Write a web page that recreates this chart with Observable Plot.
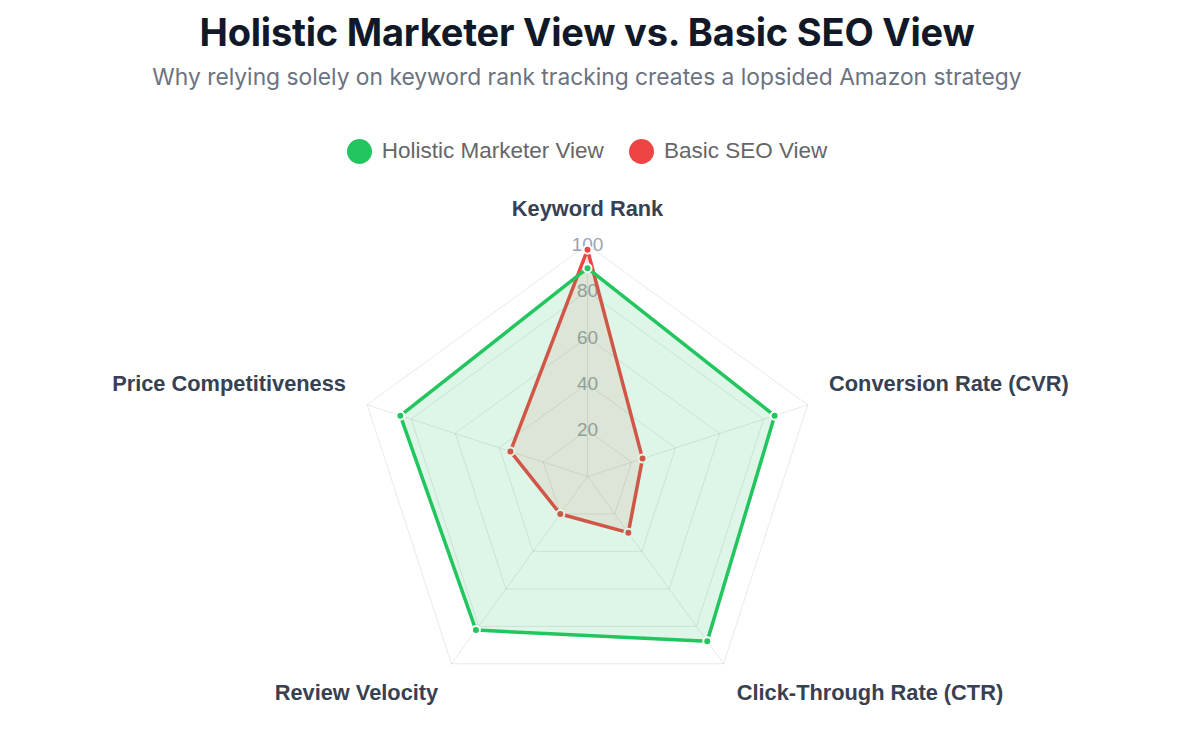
<!DOCTYPE html>
<html>
<head>
<meta charset="utf-8">
<script src="https://cdn.jsdelivr.net/npm/d3@7"></script>
<script src="https://cdn.jsdelivr.net/npm/@observablehq/plot@0.6"></script>
<style>
  html, body { margin: 0; padding: 0; background: #fff; }
  #wrap { width: 1174px; }
  .title { height: 64px; line-height: 64px; text-align: center; font-family: Inter, sans-serif; font-weight: 700; font-size: 38px; color: #111827; letter-spacing: -0.2px; }
  .subtitle { height: 26px; line-height: 26px; text-align: center; font-family: Inter, sans-serif; font-size: 22.8px; color: #6b7280; }
  .legend { margin-top: 46px; height: 30px; display: flex; justify-content: center; align-items: center; gap: 25px; font-family: "Liberation Sans", Arial, sans-serif; font-size: 22.5px; color: #666; }
  .legend span.item { display: flex; align-items: center; gap: 10px; }
  .legend span.sw { width: 25px; height: 25px; border-radius: 50%; display: inline-block; }
  #chart { margin-top: 14px; }
</style>
</head>
<body>
<div id="wrap">
  <div class="title">Holistic Marketer View vs. Basic SEO View</div>
  <div class="subtitle">Why relying solely on keyword rank tracking creates a lopsided Amazon strategy</div>
  <div class="legend" id="legend"></div>
  <div id="chart"></div>
</div>
<script>
const axesLabels = ["Keyword Rank", "Conversion Rate (CVR)", "Click-Through Rate (CTR)", "Review Velocity", "Price Competitiveness"];
const seriesNames = ["Holistic Marketer View", "Basic SEO View"];
const holisticValues = [90, 85, 88, 82, 85];
const basicSeoValues = [98, 25, 30, 20, 35];
const tickValues = [20, 40, 60, 80, 100];
const seriesColors = ["#22c55e", "#ef4444"];

const n = axesLabels.length;
const ang = i => (i * 2 * Math.PI) / n;
const px = (v, i) => v * Math.sin(ang(i));
const py = (v, i) => v * Math.cos(ang(i));
const maxV = 100;
const labelV = 109.7;

// legend
const leg = document.getElementById("legend");
seriesNames.forEach((s, k) => {
  const it = document.createElement("span");
  it.className = "item";
  it.innerHTML = `<span class="sw" style="background:${seriesColors[k]}"></span><span>${s}</span>`;
  leg.appendChild(it);
});

const grid = tickValues.flatMap(t => axesLabels.map((a, i) => ({t, i, x: px(t, i), y: py(t, i)})));
const spokes = axesLabels.map((a, i) => ({x: px(maxV, i), y: py(maxV, i)}));
const mk = (vals, name) => vals.map((v, i) => ({name, axis: axesLabels[i], v, x: px(v, i), y: py(v, i)}));
const holistic = mk(holisticValues, seriesNames[0]);
const basic = mk(basicSeoValues, seriesNames[1]);
const labels = axesLabels.map((a, i) => {
  const deg = (ang(i) * 180) / Math.PI;
  const anchor = Math.abs(deg) < 1 || Math.abs(deg - 180) < 1 ? "middle" : deg < 180 ? "start" : "end";
  const line = deg > 90 && deg < 270 ? "top" : "bottom";
  return {label: a, x: px(labelV, i), y: py(labelV, i), anchor, line};
});

const cx = 587, cy = 296, R = 231.5;
const labelMark = (anchor, line) => Plot.text(labels.filter(d => d.anchor === anchor && d.line === line), {
  x: "x", y: "y", text: "label", textAnchor: anchor, lineAnchor: line, dy: line === "bottom" ? -7 : 3,
  fontFamily: "Liberation Sans, Arial, sans-serif", fontWeight: 700, fontSize: 21.8, fill: "#374151"
});

const chart = Plot.plot({
  width: 1174,
  height: 549,
  x: {domain: [-maxV, maxV], range: [cx - R, cx + R], axis: null},
  y: {domain: [-maxV, maxV], range: [cy + R, cy - R], axis: null},
  marks: [
    Plot.line(grid, {x: "x", y: "y", z: "t", curve: "linear-closed", stroke: "#000", strokeOpacity: 0.09, strokeWidth: 1}),
    Plot.link(spokes, {x1: 0, y1: 0, x2: "x", y2: "y", stroke: "#000", strokeOpacity: 0.09, strokeWidth: 1}),
    Plot.text(tickValues, {x: 0, y: d => d, text: d => String(d), fontFamily: "Liberation Sans, Arial, sans-serif", fontSize: 19, fill: "#9ca3af"}),
    Plot.line(basic, {x: "x", y: "y", curve: "linear-closed", fill: seriesColors[1], fillOpacity: 0.1, stroke: seriesColors[1], strokeWidth: 3.5}),
    Plot.dot(basic, {x: "x", y: "y", r: 4, fill: seriesColors[1], stroke: "#fff", strokeWidth: 2}),
    Plot.line(holistic, {x: "x", y: "y", curve: "linear-closed", fill: seriesColors[0], fillOpacity: 0.15, stroke: "none"}),
    Plot.line(holistic, {x: "x", y: "y", curve: "linear-closed", stroke: seriesColors[0], strokeWidth: 3.5}),
    Plot.dot(holistic, {x: "x", y: "y", r: 4, fill: seriesColors[0], stroke: "#fff", strokeWidth: 2}),
    labelMark("middle", "bottom"),
    labelMark("start", "bottom"),
    labelMark("start", "top"),
    labelMark("end", "top"),
    labelMark("end", "bottom")
  ]
});
document.getElementById("chart").appendChild(chart);
</script>
</body>
</html>
